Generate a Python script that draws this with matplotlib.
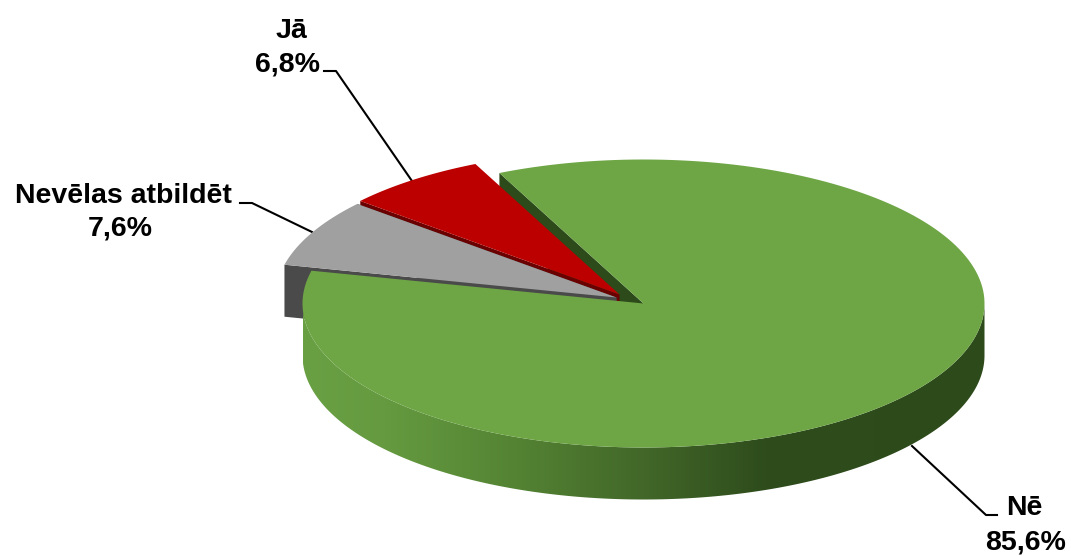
import numpy as np
import matplotlib
matplotlib.use('Agg')
import matplotlib.pyplot as plt
from matplotlib.colors import LinearSegmentedColormap
from matplotlib.patches import Polygon

plt.rcParams['font.family'] = ['Liberation Sans', 'DejaVu Sans']

# Slices, clockwise starting from the top cut of the green one
labels = ['Nē', 'Nevēlas atbildēt', 'Jā']
values = [85.6, 7.6, 6.8]
value_text = ['85,6%', '7,6%', '6,8%']

top_colors = ['#6ea645', '#a0a0a0', '#bc0000']
side_colors = ['#2d4a1b', '#4a4a4a', '#6a0000']

start_angle = 115.0
rx, ry = 341.0, 144.0
depth = 52.0
center = (643.5, 303.5)
# exploded slices are moved a bit, in pixels
offsets = [(0, 0), (-27, -6), (-24, -9)]

fig = plt.figure(figsize=(10.71, 5.56), dpi=100)
ax = fig.add_axes([0, 0, 1, 1])
ax.set_xlim(0, 1071)
ax.set_ylim(556, 0)
ax.axis('off')

# turn the values into angle ranges
spans = np.array(values) / sum(values) * 360
ends = start_angle - np.cumsum(spans)
starts = np.concatenate([[start_angle], ends[:-1]])


def rim(a1, a2, cx, cy, dy=0.0, n=200):
    t = np.radians(np.linspace(a1, a2, n))
    return np.column_stack([cx + rx * np.cos(t), cy - ry * np.sin(t) + dy])


def slice_top(i):
    cx = center[0] + offsets[i][0]
    cy = center[1] + offsets[i][1]
    return np.vstack([[cx, cy], rim(starts[i], ends[i], cx, cy)])


def cut_wall(i, angle):
    cx = center[0] + offsets[i][0]
    cy = center[1] + offsets[i][1]
    p = rim(angle, angle, cx, cy, n=1)[0]
    return [(cx, cy), tuple(p), (p[0], p[1] + depth), (cx, cy + depth)]


# back to front: green cut, red, grey, then the big green slice
ax.add_patch(Polygon(cut_wall(0, starts[0]), color=side_colors[0], lw=0, zorder=1))

ax.add_patch(Polygon(cut_wall(2, starts[2]), color=side_colors[2], lw=0, zorder=2))
ax.add_patch(Polygon(slice_top(2), color=top_colors[2], lw=0, zorder=3))

ax.add_patch(Polygon(cut_wall(1, ends[1]), color=side_colors[1], lw=0, zorder=4))
ax.add_patch(Polygon(cut_wall(1, starts[1]), color=side_colors[1], lw=0, zorder=4))
ax.add_patch(Polygon(slice_top(1), color=top_colors[1], lw=0, zorder=5))

# front wall of the green slice with its left to right shading
front = np.vstack([rim(180, 360, center[0], center[1]),
                   rim(360, 180, center[0], center[1], dy=depth)])
wall = Polygon(front, facecolor='none', edgecolor='none', zorder=6)
ax.add_patch(wall)
shade = LinearSegmentedColormap.from_list('shade', [
    (0.0, '#6aa044'), (0.12, '#659a40'), (0.30, '#558534'),
    (0.50, '#426729'), (0.68, '#2e4c1c'), (1.0, '#2d4a1b')])
grad = np.linspace(0, 1, 256).reshape(1, -1)
im = ax.imshow(grad, cmap=shade, extent=(center[0] - rx, center[0] + rx, 520, 290),
               aspect='auto', zorder=6)
im.set_clip_path(wall)
ax.set_xlim(0, 1071)
ax.set_ylim(556, 0)

ax.add_patch(Polygon(slice_top(0), color=top_colors[0], lw=0, zorder=7))

# leader lines
ax.plot([912, 986, 997], [446, 515, 515], color='black', lw=1.5, zorder=8)
ax.plot([312, 252, 240], [232, 203, 203], color='black', lw=1.5, zorder=2)
ax.plot([412, 336, 324], [181, 71, 71], color='black', lw=1.5, zorder=2)

# data labels
font = dict(fontsize=20.5, fontweight='bold', color='black', ha='center', va='center')
ax.text(1024, 508, labels[0], **font)
ax.text(1026, 542, value_text[0], **font)
ax.text(123, 196, labels[1], **font)
ax.text(120, 228, value_text[1], **font)
ax.text(291, 31, labels[2], **font)
ax.text(288, 65, value_text[2], **font)

fig.savefig('out.png', dpi=100)
